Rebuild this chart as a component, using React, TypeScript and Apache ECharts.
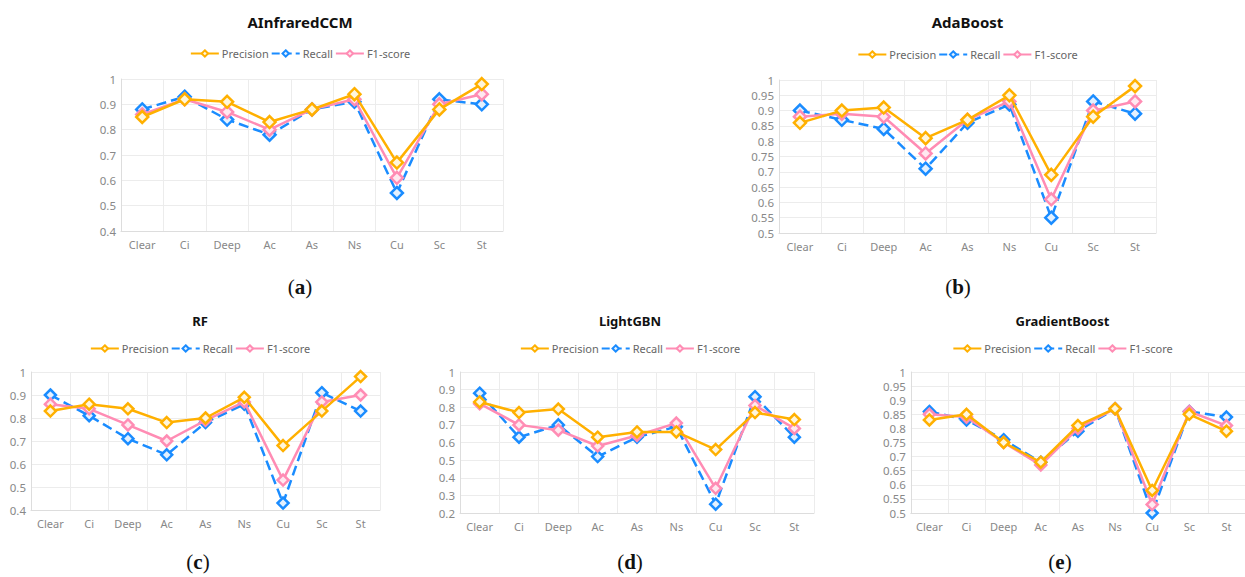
import React, { useEffect, useRef } from "react";
import * as echarts from "echarts";

const categories = ["Clear", "Ci", "Deep", "Ac", "As", "Ns", "Cu", "Sc", "St"];
const seriesNames = ["Precision", "Recall", "F1-score"];

const aPrecision = [0.85, 0.92, 0.91, 0.83, 0.88, 0.94, 0.67, 0.88, 0.98];
const aRecall = [0.88, 0.93, 0.84, 0.78, 0.88, 0.91, 0.55, 0.92, 0.9];
const aF1 = [0.86, 0.92, 0.87, 0.8, 0.88, 0.92, 0.61, 0.9, 0.94];

const bPrecision = [0.86, 0.9, 0.91, 0.81, 0.87, 0.95, 0.69, 0.88, 0.98];
const bRecall = [0.9, 0.87, 0.84, 0.71, 0.86, 0.92, 0.55, 0.93, 0.89];
const bF1 = [0.88, 0.89, 0.88, 0.76, 0.87, 0.93, 0.61, 0.9, 0.93];

const cPrecision = [0.83, 0.86, 0.84, 0.78, 0.8, 0.89, 0.68, 0.83, 0.98];
const cRecall = [0.9, 0.81, 0.71, 0.64, 0.78, 0.86, 0.43, 0.91, 0.83];
const cF1 = [0.86, 0.84, 0.77, 0.7, 0.79, 0.87, 0.53, 0.87, 0.9];

const dPrecision = [0.83, 0.77, 0.79, 0.63, 0.66, 0.66, 0.56, 0.77, 0.73];
const dRecall = [0.88, 0.63, 0.7, 0.52, 0.63, 0.69, 0.25, 0.86, 0.63];
const dF1 = [0.82, 0.7, 0.67, 0.58, 0.64, 0.71, 0.34, 0.81, 0.68];

const ePrecision = [0.83, 0.85, 0.75, 0.68, 0.81, 0.87, 0.58, 0.85, 0.79];
const eRecall = [0.86, 0.83, 0.76, 0.68, 0.79, 0.87, 0.5, 0.86, 0.84];
const eF1 = [0.85, 0.84, 0.75, 0.67, 0.8, 0.87, 0.53, 0.86, 0.81];

const COLORS = ["#FFB000", "#1A8CFF", "#FF8CB4"];

type Panel = {
  title: string;
  caption: string;
  data: number[][];
  yMin: number;
  yInterval: number;
  box: { left: number; top: number; width: number; height: number };
  grid: { left: number; top: number; width: number; height: number };
  titleTop: number;
  titleSize: number;
  legendTop: number;
  captionX: number;
  captionY: number;
  symbolSize: number;
};

const panels: Panel[] = [
  {
    title: "AInfraredCCM",
    caption: "a",
    data: [aPrecision, aRecall, aF1],
    yMin: 0.4,
    yInterval: 0.1,
    box: { left: 0, top: 0, width: 600, height: 300 },
    grid: { left: 121, top: 79, width: 382, height: 152 },
    titleTop: 9,
    titleSize: 15,
    legendTop: 43,
    captionX: 300,
    captionY: 287,
    symbolSize: 12,
  },
  {
    title: "AdaBoost",
    caption: "b",
    data: [bPrecision, bRecall, bF1],
    yMin: 0.5,
    yInterval: 0.05,
    box: { left: 690, top: 0, width: 555, height: 300 },
    grid: { left: 89, top: 80, width: 377, height: 153 },
    titleTop: 9,
    titleSize: 15,
    legendTop: 44,
    captionX: 268,
    captionY: 287,
    symbolSize: 12,
  },
  {
    title: "RF",
    caption: "c",
    data: [cPrecision, cRecall, cF1],
    yMin: 0.4,
    yInterval: 0.1,
    box: { left: 0, top: 300, width: 400, height: 277 },
    grid: { left: 31, top: 72, width: 349, height: 138 },
    titleTop: 9,
    titleSize: 13,
    legendTop: 38,
    captionX: 198,
    captionY: 262,
    symbolSize: 11,
  },
  {
    title: "LightGBN",
    caption: "d",
    data: [dPrecision, dRecall, dF1],
    yMin: 0.2,
    yInterval: 0.1,
    box: { left: 420, top: 300, width: 420, height: 277 },
    grid: { left: 40, top: 72, width: 354, height: 141 },
    titleTop: 9,
    titleSize: 13,
    legendTop: 38,
    captionX: 210,
    captionY: 262,
    symbolSize: 11,
  },
  {
    title: "GradientBoost",
    caption: "e",
    data: [ePrecision, eRecall, eF1],
    yMin: 0.5,
    yInterval: 0.05,
    box: { left: 880, top: 300, width: 365, height: 277 },
    grid: { left: 16, top: 72, width: 349, height: 141 },
    titleTop: 9,
    titleSize: 13,
    legendTop: 38,
    captionX: 180,
    captionY: 262,
    symbolSize: 11,
  },
];

function buildOption(p: Panel) {
  return {
    animation: false,
    backgroundColor: "#ffffff",
    title: {
      text: p.title,
      left: "center",
      top: p.titleTop,
      textStyle: {
        fontFamily: "Noto Sans",
        fontSize: p.titleSize,
        fontWeight: "bold",
        color: "#111111",
      },
    },
    legend: {
      top: p.legendTop,
      left: "center",
      itemGap: 2,
      itemWidth: 28,
      itemHeight: 8,
      data: seriesNames,
      textStyle: { color: "#666666", fontSize: 11, fontFamily: "Noto Sans", padding: [0, 0, 0, -2] },
    },
    grid: { ...p.grid, containLabel: false },
    xAxis: {
      type: "category",
      data: categories,
      boundaryGap: true,
      axisLine: { lineStyle: { color: "#dddddd" } },
      axisTick: { show: false },
      axisLabel: { color: "#888888", fontSize: 11, fontFamily: "Noto Sans", margin: 8 },
      splitLine: { show: true, lineStyle: { color: "#ececec" } },
    },
    yAxis: {
      type: "value",
      min: p.yMin,
      max: 1,
      interval: p.yInterval,
      axisLine: { show: true, lineStyle: { color: "#dddddd" } },
      axisTick: { show: false },
      axisLabel: {
        color: "#888888",
        fontSize: 11.5,
        fontFamily: "Noto Sans",
        margin: 5,
        formatter: (v: number) => String(parseFloat(v.toFixed(2))),
      },
      splitLine: { show: true, lineStyle: { color: "#ececec" } },
    },
    series: seriesNames.map((name, i) => ({
      name,
      type: "line",
      data: p.data[i],
      symbol: "diamond",
      symbolSize: p.symbolSize,
      z: i === 1 ? 2 : i === 2 ? 3 : 4 - i,
      itemStyle: {
        color: i === 0 ? "#fff6dc" : i === 1 ? "#e4f1ff" : "#ffe8f0",
        borderColor: COLORS[i],
        borderWidth: 2.5,
      },
      lineStyle: {
        color: COLORS[i],
        width: 2.5,
        type: i === 1 ? "dashed" : "solid",
      },
      color: COLORS[i],
    })),
    graphic: [
      {
        type: "text",
        x: p.captionX,
        y: p.captionY,
        style: {
          text: "{p|(}{b|" + p.caption + "}{p|)}",
          textAlign: "center",
          textVerticalAlign: "middle",
          rich: {
            p: { fontFamily: "Liberation Serif", fontSize: 21, fill: "#111", fontWeight: "normal" },
            b: { fontFamily: "Liberation Serif", fontSize: 21, fill: "#111", fontWeight: "bold" },
          },
        },
      },
    ],
  };
}

function ChartPanel({ panel }: { panel: Panel }) {
  const ref = useRef<HTMLDivElement>(null);
  useEffect(() => {
    if (!ref.current) return;
    const chart = echarts.init(ref.current, undefined, { renderer: "svg" });
    chart.setOption(buildOption(panel) as any);
    return () => chart.dispose();
  }, [panel]);
  return (
    <div
      ref={ref}
      style={{
        position: "absolute",
        left: panel.box.left,
        top: panel.box.top,
        width: panel.box.width,
        height: panel.box.height,
      }}
    />
  );
}

export default function App() {
  useEffect(() => {
    document.body.style.margin = "0";
    document.body.style.background = "#ffffff";
  }, []);
  return (
    <div style={{ position: "relative", width: 1245, height: 577, background: "#ffffff", overflow: "hidden" }}>
      {panels.map((p) => (
        <ChartPanel key={p.title} panel={p} />
      ))}
    </div>
  );
}
